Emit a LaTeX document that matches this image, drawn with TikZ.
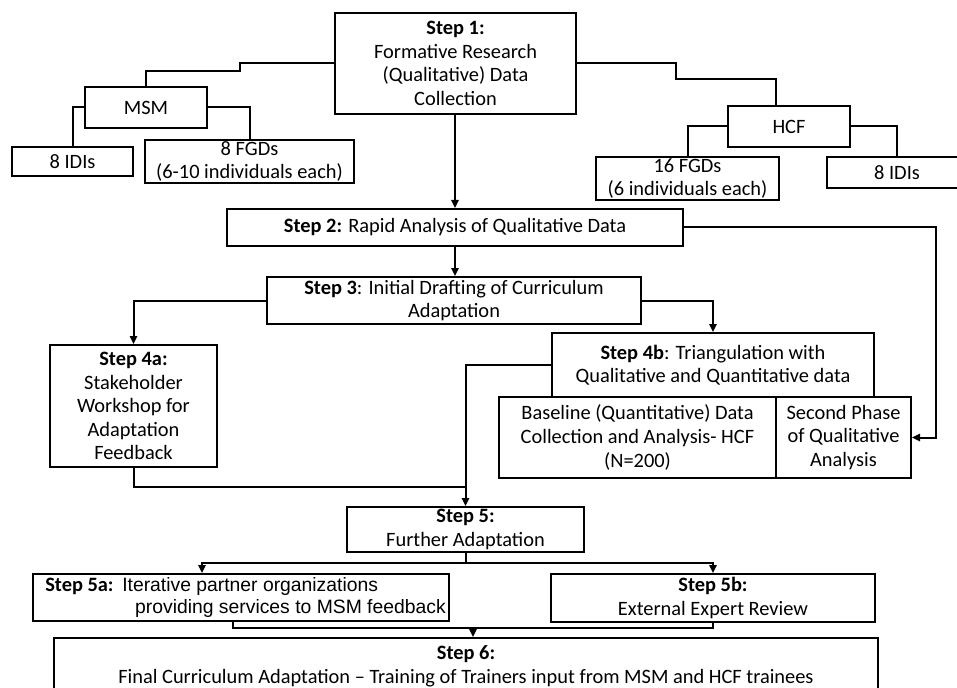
\documentclass[tikz,border=0pt]{standalone}
\usepackage{fontspec}
\setmainfont{Carlito}
\newfontfamily\helv{Liberation Sans}
\usetikzlibrary{arrows.meta,calc}
\newcommand{\bxnode}[6]{\node[bx, minimum width={(#4-#2)*0.75pt}, minimum height={(#5-#3)*0.75pt}] (#1) at ({(#2+#4)/2},{(#3+#5)/2}) {#6};}
\tikzset{
  bx/.style={draw, line width=1.5pt, inner sep=0pt, align=center, font=\fontsize{15.3}{17.7}\selectfont},
  txt/.style={inner sep=0pt, font=\fontsize{15.3}{17.7}\selectfont},
  conn/.style={line width=1.5pt},
  arr/.style={line width=1.5pt, -{Triangle[length=6pt,width=5.5pt]}}
}
\begin{document}
\begin{tikzpicture}[x=0.75pt,y=-0.75pt]
\useasboundingbox (0,0) rectangle (957,688);
\fill[white] (0,0) rectangle (957,688);
\clip (0,0) rectangle (957,688);
% boxes
\bxnode{s1}{335}{13}{576}{114}{\textbf{Step 1:}\\Formative Research\\(Qualitative) Data\\Collection}
\bxnode{msm}{85}{87}{207}{128}{MSM}
\bxnode{idis1}{12}{147}{133}{176}{8 IDIs}
\bxnode{fgd1}{145}{140}{354}{183}{8 FGDs\\(6-10 individuals each)}
\bxnode{hcf}{728}{106}{850}{147}{HCF}
\bxnode{fgd2}{596}{157}{779}{200}{16 FGDs\\(6 individuals each)}
\bxnode{idis2}{827}{157}{967}{188}{8 IDIs}
\bxnode{s2}{227}{209}{683}{246}{\textbf{Step 2:} Rapid Analysis of Qualitative Data}
\bxnode{s3}{267}{277}{641}{324}{\textbf{Step 3}: Initial Drafting of Curriculum\\Adaptation}
\bxnode{s4a}{50}{345}{217}{467}{\textbf{Step 4a:}\\Stakeholder\\Workshop for\\Adaptation\\Feedback}
\bxnode{s4b}{552}{333}{874}{397}{\textbf{Step 4b}: Triangulation with\\Qualitative and Quantitative data}
\bxnode{base}{499}{397}{776}{478}{Baseline (Quantitative) Data\\Collection and Analysis- HCF\\(N=200)}
\bxnode{sp}{776}{397}{911}{478}{Second Phase\\of Qualitative\\Analysis}
\bxnode{s5}{347}{507}{584}{552}{\textbf{Step 5:}\\Further Adaptation}
\bxnode{s5a}{33}{574}{449}{621}{}
\bxnode{s5b}{551}{574}{875}{622}{\textbf{Step 5b:}\\External Expert Review}
\bxnode{s6}{54}{638}{878}{694}{\textbf{Step 6:}\\Final Curriculum Adaptation – Training of Trainers input from MSM and HCF trainees}
% step 5a texts
\node[txt, anchor=west] (t5a0) at (45,586) {\textbf{Step 5a:}};
\node[txt, anchor=west, font=\fontsize{14.5}{17}\selectfont] (t5a1) at (122,586) {\helv Iterative partner organizations};
\node[txt, anchor=east, font=\fontsize{14.5}{17}\selectfont] (t5a2) at (446,608) {\helv providing services to MSM feedback};
% connectors
\draw[conn] (s1.west) -- (240,63.5) -- (240,71) -- (146,71) -- (msm.north);
\draw[conn] (s1.east) -- (676,63.5) -- (676,79) -- (776,79) -- (776,0 |- hcf.north);
\draw[conn] (msm.west) -| (idis1.north);
\draw[conn] (msm.east) -| (fgd1.north);
\draw[conn] (hcf.west) -| (fgd2.north);
\draw[conn] (hcf.east) -| (idis2.north);
\draw[arr] (s2.north |- s1.south) -- (s2.north);
\draw[arr] (s2.south) -- (s2.south |- s3.north);
\draw[arr] (s2.east) -- (936,227.5) |- (sp.east);
\draw[arr] (s3.west) -| (s4a.north);
\draw[arr] (s3.east) -| (s4b.north);
\coordinate (j5) at (465.5,487);
\draw[conn] (s4a.south) |- (j5);
\draw[arr] (s4b.west) -| (s5.north);
\coordinate (j6) at (465.5,563);
\draw[conn] (s5.south) -- (j6);
\draw[arr] (j6) -| (202,0 |- s5a.north);
\draw[arr] (j6) -| (s5b.north);
\coordinate (j7) at (473,628);
\draw[conn] (233,0 |- s5a.south) |- (j7);
\draw[conn] (s5b.south) |- (j7);
\draw[arr] (j7) -- (473,0 |- s6.north);
\end{tikzpicture}
\end{document}
